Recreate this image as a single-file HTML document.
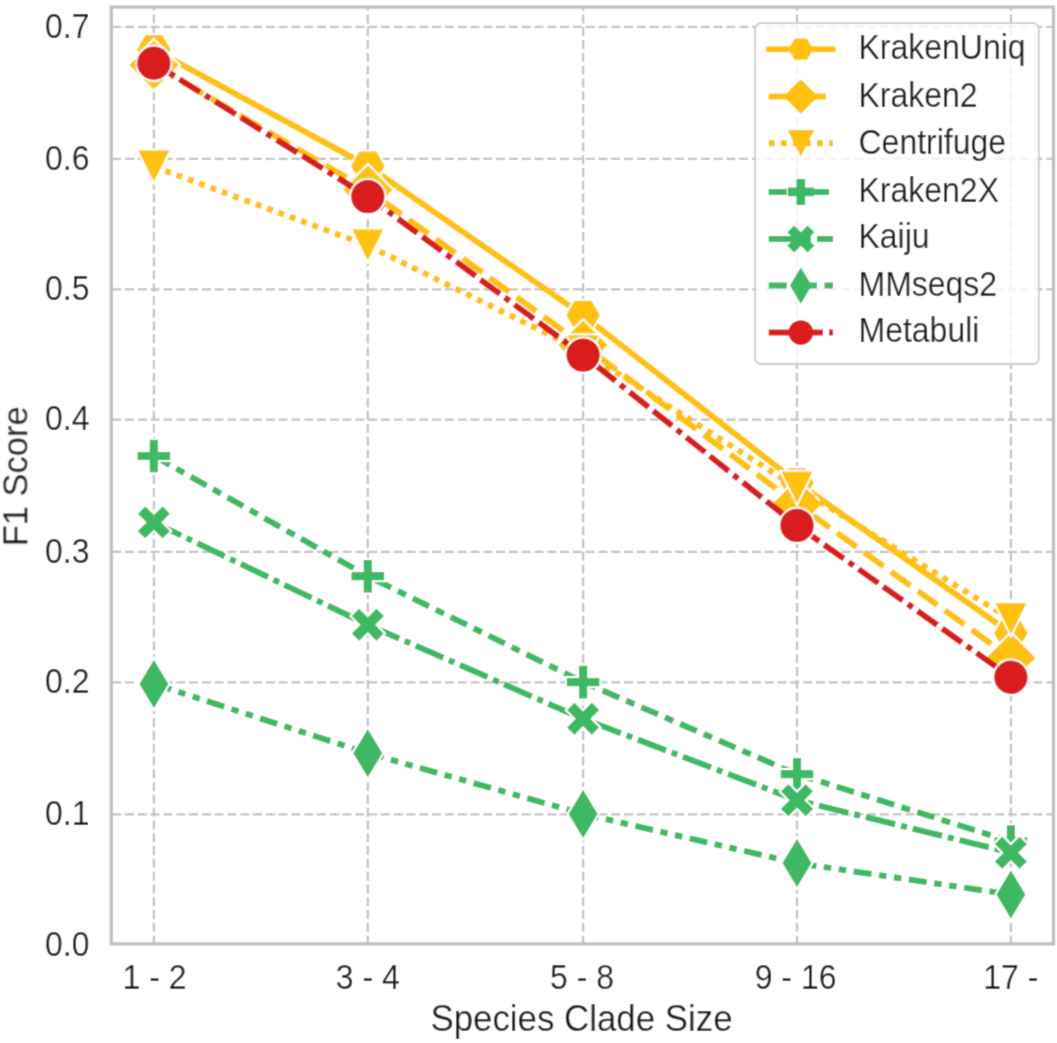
<!DOCTYPE html>
<html><head><meta charset="utf-8"><style>
html,body{margin:0;padding:0;background:#fff;}
body{width:1057px;height:1043px;overflow:hidden;}
svg{display:block;}
text{font-family:"Liberation Sans", sans-serif;}
</style></head><body>
<svg width="1057" height="1043" viewBox="0 0 1057 1043">
<defs><filter id="bl" x="0" y="0" width="1057" height="1043" filterUnits="userSpaceOnUse"><feConvolveMatrix order="3" kernelMatrix="0.02768 0.11101 0.02768 0.11101 0.44521 0.11101 0.02768 0.11101 0.02768" divisor="1" edgeMode="duplicate" preserveAlpha="true"/></filter></defs>
<g filter="url(#bl)">
<rect width="1057" height="1043" fill="#ffffff"/>
<g stroke="#c4c4c4" stroke-width="2.3" stroke-dasharray="8.93 3.864" fill="none"><line x1="111.3" y1="814.4" x2="1053.5" y2="814.4" stroke-dashoffset="11.794"/><line x1="111.3" y1="682.3" x2="1053.5" y2="682.3" stroke-dashoffset="11.794"/><line x1="111.3" y1="551.8" x2="1053.5" y2="551.8" stroke-dashoffset="11.794"/><line x1="111.3" y1="419.7" x2="1053.5" y2="419.7" stroke-dashoffset="11.794"/><line x1="111.3" y1="289.35" x2="1053.5" y2="289.35" stroke-dashoffset="11.794"/><line x1="111.3" y1="158.97" x2="1053.5" y2="158.97" stroke-dashoffset="11.794"/><line x1="111.3" y1="26.96" x2="1053.5" y2="26.96" stroke-dashoffset="11.794"/><line x1="153.9" y1="944.6" x2="153.9" y2="7"/><line x1="367.8" y1="944.6" x2="367.8" y2="7"/><line x1="583.1" y1="944.6" x2="583.1" y2="7"/><line x1="797" y1="944.6" x2="797" y2="7"/><line x1="1010.9" y1="944.6" x2="1010.9" y2="7"/></g>
<polyline points="153.9,49.5 367.8,166 583.1,315.3 797,482.4 1010.9,633.2" fill="none" stroke="#FFC107" stroke-width="6.0" stroke-linejoin="round" stroke-linecap="round"/>
<path d="M171.8,49.5 L162.85,65 L144.95,65 L136,49.5 L144.95,34 L162.85,34Z" fill="#FFC107" stroke="#ffffff" stroke-width="2"/>
<path d="M385.7,166 L376.75,181.5 L358.85,181.5 L349.9,166 L358.85,150.5 L376.75,150.5Z" fill="#FFC107" stroke="#ffffff" stroke-width="2"/>
<path d="M601,315.3 L592.05,330.8 L574.15,330.8 L565.2,315.3 L574.15,299.8 L592.05,299.8Z" fill="#FFC107" stroke="#ffffff" stroke-width="2"/>
<path d="M814.9,482.4 L805.95,497.9 L788.05,497.9 L779.1,482.4 L788.05,466.9 L805.95,466.9Z" fill="#FFC107" stroke="#ffffff" stroke-width="2"/>
<path d="M1028.8,633.2 L1019.85,648.7 L1001.95,648.7 L993,633.2 L1001.95,617.7 L1019.85,617.7Z" fill="#FFC107" stroke="#ffffff" stroke-width="2"/>
<polyline points="153.9,65 367.8,190 583.1,345 797,504 1010.9,658" fill="none" stroke="#FFC107" stroke-width="6.0" stroke-linejoin="round" stroke-dasharray="24.12 9.04" stroke-linecap="butt"/>
<path d="M153.9,38.98 L179.92,65 L153.9,91.02 L127.88,65Z" fill="#FFC107" stroke="#ffffff" stroke-width="2"/>
<path d="M367.8,163.98 L393.82,190 L367.8,216.02 L341.78,190Z" fill="#FFC107" stroke="#ffffff" stroke-width="2"/>
<path d="M583.1,318.98 L609.12,345 L583.1,371.02 L557.08,345Z" fill="#FFC107" stroke="#ffffff" stroke-width="2"/>
<path d="M797,477.98 L823.02,504 L797,530.02 L770.98,504Z" fill="#FFC107" stroke="#ffffff" stroke-width="2"/>
<path d="M1010.9,631.98 L1036.92,658 L1010.9,684.02 L984.88,658Z" fill="#FFC107" stroke="#ffffff" stroke-width="2"/>
<polyline points="153.9,166.6 367.8,245.5 583.1,351.3 797,487.8 1010.9,619.3" fill="none" stroke="#FFC107" stroke-width="6.0" stroke-linejoin="round" stroke-dasharray="6.03 6.03" stroke-linecap="butt"/>
<path d="M153.9,183.7 L136.8,149.5 L171,149.5Z" fill="#FFC107" stroke="#ffffff" stroke-width="2"/>
<path d="M367.8,262.6 L350.7,228.4 L384.9,228.4Z" fill="#FFC107" stroke="#ffffff" stroke-width="2"/>
<path d="M583.1,368.4 L566,334.2 L600.2,334.2Z" fill="#FFC107" stroke="#ffffff" stroke-width="2"/>
<path d="M797,504.9 L779.9,470.7 L814.1,470.7Z" fill="#FFC107" stroke="#ffffff" stroke-width="2"/>
<path d="M1010.9,636.4 L993.8,602.2 L1028,602.2Z" fill="#FFC107" stroke="#ffffff" stroke-width="2"/>
<polyline points="153.9,456 367.8,576.2 583.1,682.1 797,774.2 1010.9,841.6" fill="none" stroke="#3CB964" stroke-width="6.0" stroke-linejoin="round" stroke-dasharray="18.09 7.54 9.04 7.54" stroke-linecap="butt"/>
<path d="M148.82,438.7 L158.98,438.7 L158.98,450.92 L171.2,450.92 L171.2,461.08 L158.98,461.08 L158.98,473.3 L148.82,473.3 L148.82,461.08 L136.6,461.08 L136.6,450.92 L148.82,450.92Z" fill="#3CB964" stroke="#ffffff" stroke-width="2"/>
<path d="M362.72,558.9 L372.88,558.9 L372.88,571.12 L385.1,571.12 L385.1,581.28 L372.88,581.28 L372.88,593.5 L362.72,593.5 L362.72,581.28 L350.5,581.28 L350.5,571.12 L362.72,571.12Z" fill="#3CB964" stroke="#ffffff" stroke-width="2"/>
<path d="M578.02,664.8 L588.18,664.8 L588.18,677.02 L600.4,677.02 L600.4,687.18 L588.18,687.18 L588.18,699.4 L578.02,699.4 L578.02,687.18 L565.8,687.18 L565.8,677.02 L578.02,677.02Z" fill="#3CB964" stroke="#ffffff" stroke-width="2"/>
<path d="M791.92,756.9 L802.08,756.9 L802.08,769.12 L814.3,769.12 L814.3,779.28 L802.08,779.28 L802.08,791.5 L791.92,791.5 L791.92,779.28 L779.7,779.28 L779.7,769.12 L791.92,769.12Z" fill="#3CB964" stroke="#ffffff" stroke-width="2"/>
<path d="M1005.82,824.3 L1015.98,824.3 L1015.98,836.52 L1028.2,836.52 L1028.2,846.68 L1015.98,846.68 L1015.98,858.9 L1005.82,858.9 L1005.82,846.68 L993.6,846.68 L993.6,836.52 L1005.82,836.52Z" fill="#3CB964" stroke="#ffffff" stroke-width="2"/>
<polyline points="153.9,522.4 367.8,624.8 583.1,718.8 797,800.2 1010.9,852.7" fill="none" stroke="#3CB964" stroke-width="6.0" stroke-linejoin="round" stroke-dasharray="30.15 6.03 6.03 6.03" stroke-linecap="butt"/>
<path d="M145.2,505 L153.9,513.7 L162.6,505 L171.3,513.7 L162.6,522.4 L171.3,531.1 L162.6,539.8 L153.9,531.1 L145.2,539.8 L136.5,531.1 L145.2,522.4 L136.5,513.7Z" fill="#3CB964" stroke="#ffffff" stroke-width="2"/>
<path d="M359.1,607.4 L367.8,616.1 L376.5,607.4 L385.2,616.1 L376.5,624.8 L385.2,633.5 L376.5,642.2 L367.8,633.5 L359.1,642.2 L350.4,633.5 L359.1,624.8 L350.4,616.1Z" fill="#3CB964" stroke="#ffffff" stroke-width="2"/>
<path d="M574.4,701.4 L583.1,710.1 L591.8,701.4 L600.5,710.1 L591.8,718.8 L600.5,727.5 L591.8,736.2 L583.1,727.5 L574.4,736.2 L565.7,727.5 L574.4,718.8 L565.7,710.1Z" fill="#3CB964" stroke="#ffffff" stroke-width="2"/>
<path d="M788.3,782.8 L797,791.5 L805.7,782.8 L814.4,791.5 L805.7,800.2 L814.4,808.9 L805.7,817.6 L797,808.9 L788.3,817.6 L779.6,808.9 L788.3,800.2 L779.6,791.5Z" fill="#3CB964" stroke="#ffffff" stroke-width="2"/>
<path d="M1002.2,835.3 L1010.9,844 L1019.6,835.3 L1028.3,844 L1019.6,852.7 L1028.3,861.4 L1019.6,870.1 L1010.9,861.4 L1002.2,870.1 L993.5,861.4 L1002.2,852.7 L993.5,844Z" fill="#3CB964" stroke="#ffffff" stroke-width="2"/>
<polyline points="153.9,683.9 367.8,753.2 583.1,813.9 797,863.1 1010.9,894.5" fill="none" stroke="#3CB964" stroke-width="6.0" stroke-linejoin="round" stroke-dasharray="18.09 7.54 7.54 7.54 7.54 7.54" stroke-linecap="butt"/>
<path d="M153.9,657.88 L169.51,683.9 L153.9,709.92 L138.29,683.9Z" fill="#3CB964" stroke="#ffffff" stroke-width="2"/>
<path d="M367.8,727.18 L383.41,753.2 L367.8,779.22 L352.19,753.2Z" fill="#3CB964" stroke="#ffffff" stroke-width="2"/>
<path d="M583.1,787.88 L598.71,813.9 L583.1,839.92 L567.49,813.9Z" fill="#3CB964" stroke="#ffffff" stroke-width="2"/>
<path d="M797,837.08 L812.61,863.1 L797,889.12 L781.39,863.1Z" fill="#3CB964" stroke="#ffffff" stroke-width="2"/>
<path d="M1010.9,868.48 L1026.51,894.5 L1010.9,920.52 L995.29,894.5Z" fill="#3CB964" stroke="#ffffff" stroke-width="2"/>
<polyline points="153.9,63.3 367.8,196.6 583.1,355.1 797,525.4 1010.9,677.3" fill="none" stroke="#D91C1E" stroke-width="6.0" stroke-linejoin="round" stroke-dasharray="24.12 6.03 24.12 6.03 6.03 6.03" stroke-linecap="butt"/>
<circle cx="153.9" cy="63.3" r="17.7" fill="#D91C1E" stroke="#ffffff" stroke-width="2"/>
<circle cx="367.8" cy="196.6" r="17.7" fill="#D91C1E" stroke="#ffffff" stroke-width="2"/>
<circle cx="583.1" cy="355.1" r="17.7" fill="#D91C1E" stroke="#ffffff" stroke-width="2"/>
<circle cx="797" cy="525.4" r="17.7" fill="#D91C1E" stroke="#ffffff" stroke-width="2"/>
<circle cx="1010.9" cy="677.3" r="17.7" fill="#D91C1E" stroke="#ffffff" stroke-width="2"/>
<rect x="111.3" y="7" width="942.2" height="936.9" fill="none" stroke="#bfbfbf" stroke-width="3.3"/>
<g font-family="Liberation Sans, sans-serif" font-size="32" fill="#1c1c1c"><text transform="translate(89.5,955.7) scale(1,1.07)" text-anchor="end">0.0</text><text transform="translate(89.5,825.1) scale(1,1.07)" text-anchor="end">0.1</text><text transform="translate(89.5,693) scale(1,1.07)" text-anchor="end">0.2</text><text transform="translate(89.5,562.5) scale(1,1.07)" text-anchor="end">0.3</text><text transform="translate(89.5,430.4) scale(1,1.07)" text-anchor="end">0.4</text><text transform="translate(89.5,300.05) scale(1,1.07)" text-anchor="end">0.5</text><text transform="translate(89.5,169.67) scale(1,1.07)" text-anchor="end">0.6</text><text transform="translate(89.5,37.66) scale(1,1.07)" text-anchor="end">0.7</text><text transform="translate(154.5,988.5) scale(1,1.07)" text-anchor="middle">1 - 2</text><text transform="translate(367.8,988.5) scale(1,1.07)" text-anchor="middle">3 - 4</text><text transform="translate(582.1,988.5) scale(1,1.07)" text-anchor="middle">5 - 8</text><text transform="translate(795.6,988.5) scale(1,1.07)" text-anchor="middle">9 - 16</text><text transform="translate(1010.9,988.5) scale(1,1.07)" text-anchor="middle">17 -</text></g>
<text transform="translate(581.5,1030.5) scale(1,1.07)" text-anchor="middle" font-family="Liberation Sans, sans-serif" font-size="34.85" fill="#1c1c1c">Species Clade Size</text>
<text transform="translate(27,476.3) rotate(-90) scale(1,1.02)" text-anchor="middle" font-family="Liberation Sans, sans-serif" font-size="34.5" fill="#1c1c1c">F1 Score</text>
<rect x="755.2" y="23.2" width="283.6" height="340.8" rx="5.5" fill="#ffffff" fill-opacity="0.8" stroke="#cbcbcb" stroke-width="1.8"/>
<line x1="768.7" y1="49.2" x2="833" y2="49.2" stroke="#FFC107" stroke-width="6.0" stroke-linecap="round"/>
<path d="M813.1,49.2 L806.98,59.81 L794.73,59.81 L788.6,49.2 L794.73,38.59 L806.98,38.59Z" fill="#FFC107"/>
<text transform="translate(858.5,58.7) scale(1,1.07)" font-family="Liberation Sans, sans-serif" font-size="32" fill="#1c1c1c">KrakenUniq</text>
<line x1="768.7" y1="96.5" x2="833" y2="96.5" stroke="#FFC107" stroke-width="6.0" stroke-dasharray="24.12 9.04" stroke-linecap="butt"/>
<path d="M800.85,79.18 L818.17,96.5 L800.85,113.82 L783.53,96.5Z" fill="#FFC107"/>
<text transform="translate(858.5,107.3) scale(1,1.07)" font-family="Liberation Sans, sans-serif" font-size="32" fill="#1c1c1c">Kraken2</text>
<line x1="768.7" y1="143.3" x2="833" y2="143.3" stroke="#FFC107" stroke-width="6.0" stroke-dasharray="6.03 6.03" stroke-linecap="butt"/>
<path d="M800.85,156.55 L787.6,130.05 L814.1,130.05Z" fill="#FFC107"/>
<text transform="translate(858.5,154.3) scale(1,1.07)" font-family="Liberation Sans, sans-serif" font-size="32" fill="#1c1c1c">Centrifuge</text>
<line x1="768.7" y1="191.9" x2="833" y2="191.9" stroke="#3CB964" stroke-width="6.0" stroke-dasharray="18.09 7.54 9.04 7.54" stroke-linecap="butt"/>
<path d="M796.52,178.9 L805.18,178.9 L805.18,187.57 L813.85,187.57 L813.85,196.23 L805.18,196.23 L805.18,204.9 L796.52,204.9 L796.52,196.23 L787.85,196.23 L787.85,187.57 L796.52,187.57Z" fill="#3CB964"/>
<text transform="translate(858.5,201.5) scale(1,1.07)" font-family="Liberation Sans, sans-serif" font-size="32" fill="#1c1c1c">Kraken2X</text>
<line x1="768.7" y1="239" x2="833" y2="239" stroke="#3CB964" stroke-width="6.0" stroke-dasharray="30.15 6.03 6.03 6.03" stroke-linecap="butt"/>
<path d="M794.1,225.5 L800.85,232.25 L807.6,225.5 L814.35,232.25 L807.6,239 L814.35,245.75 L807.6,252.5 L800.85,245.75 L794.1,252.5 L787.35,245.75 L794.1,239 L787.35,232.25Z" fill="#3CB964"/>
<text transform="translate(858.5,248.1) scale(1,1.07)" font-family="Liberation Sans, sans-serif" font-size="32" fill="#1c1c1c">Kaiju</text>
<line x1="768.7" y1="285.6" x2="833" y2="285.6" stroke="#3CB964" stroke-width="6.0" stroke-dasharray="18.09 7.54 7.54 7.54 7.54 7.54" stroke-linecap="butt"/>
<path d="M800.85,267.57 L811.67,285.6 L800.85,303.63 L790.03,285.6Z" fill="#3CB964"/>
<text transform="translate(858.5,295.6) scale(1,1.07)" font-family="Liberation Sans, sans-serif" font-size="32" fill="#1c1c1c">MMseqs2</text>
<line x1="768.7" y1="332.6" x2="833" y2="332.6" stroke="#D91C1E" stroke-width="6.0" stroke-dasharray="24.12 6.03 24.12 6.03 6.03 6.03" stroke-linecap="butt"/>
<circle cx="800.85" cy="332.6" r="12.4" fill="#D91C1E"/>
<text transform="translate(858.5,342.2) scale(1,1.07)" font-family="Liberation Sans, sans-serif" font-size="32" fill="#1c1c1c">Metabuli</text>
</g>
</svg>
</body></html>
